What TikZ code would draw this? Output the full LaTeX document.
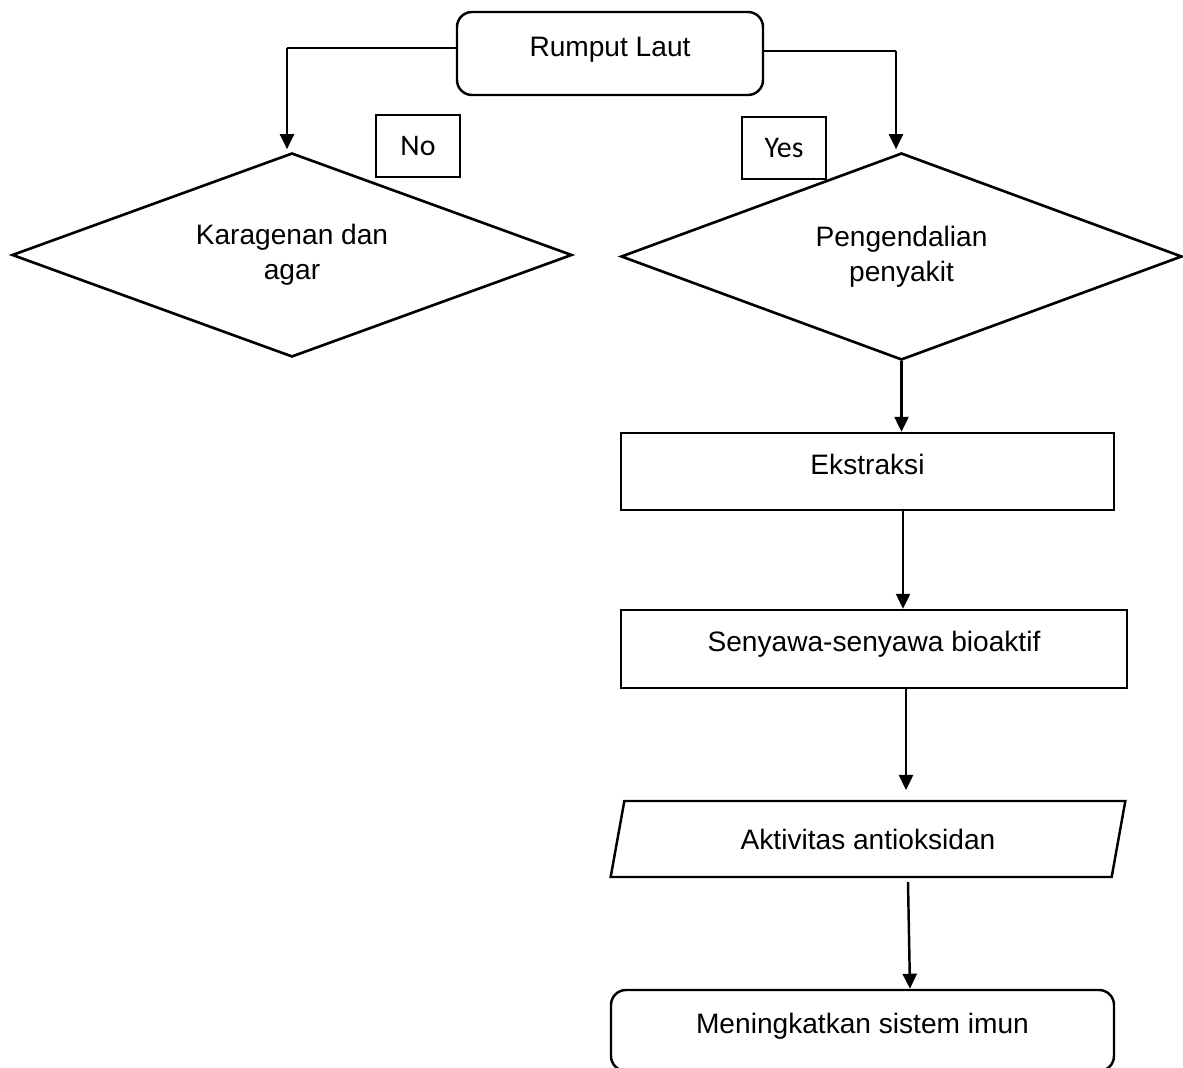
\documentclass[tikz,border=0pt]{standalone}
\usepackage{fontspec}
\setmainfont{Liberation Sans}
\newfontfamily\labelfont{Carlito}
\usetikzlibrary{shapes.geometric, arrows.meta, positioning, calc}

\begin{document}
\begin{tikzpicture}[
    node/.style={rectangle, draw=black, text centered, font=\fontsize{16}{19}\selectfont, line width=1.4pt, text height=0.42cm, text depth=0.3cm},
    roundnode/.style={node, rounded corners=0.3cm},
    decision/.style={diamond, draw=black, aspect=2.75, align=center, font=\fontsize{16}{20}\selectfont, line width=1.5pt},
    datanode/.style={trapezium, trapezium left angle=77, trapezium right angle=103, trapezium stretches=true, draw=black, text centered, font=\fontsize{16}{19}\selectfont, line width=1.4pt},
    answer/.style={rectangle, draw=black, fill=white, font=\labelfont\fontsize{17}{20}\selectfont, line width=0.7pt, minimum width=1.68cm, minimum height=1.24cm},
    line/.style={draw=black, line width=0.9pt},
    arrow/.style={draw=black, line width=1.4pt, -{Triangle[length=0.3cm, width=0.28cm]}}
]
\useasboundingbox (0,0) rectangle (23.66,21.36);
\clip (0,0) rectangle (23.66,21.36);

\node[roundnode, minimum width=6.12cm, minimum height=1.66cm] (rumput) at (12.2,20.29) {Rumput Laut};

\node[decision, minimum width=11.2cm, minimum height=4.08cm] (karagenan) at (5.84,16.26) {Karagenan dan\\agar};
\node[decision, minimum width=11.22cm, minimum height=4.14cm] (pengendalian) at (18.03,16.23) {Pengendalian\\penyakit};

\node[answer] (no) at (8.36,18.44) {No};
\node[answer] (yes) at (15.68,18.4) {Yes};

\node[node, minimum width=9.86cm, minimum height=1.54cm] (ekstraksi) at (17.35,11.93) {Ekstraksi};
\node[node, minimum width=10.12cm, minimum height=1.56cm] (senyawa) at (17.48,8.38) {Senyawa-senyawa bioaktif};
\node[datanode, minimum width=10.3cm, minimum height=1.52cm] (aktivitas) at (17.36,4.58) {Aktivitas antioksidan};
\node[roundnode, minimum width=10.06cm, minimum height=1.62cm] (imun) at (17.25,0.75) {Meningkatkan sistem imun};

% branches from the top box
\coordinate (lcorner) at (5.74,20.4);
\coordinate (rcorner) at (17.92,20.34);
\draw[line] (rumput.west |- lcorner) -- (lcorner);
\draw[arrow] (lcorner) -- ($(lcorner |- karagenan.north)+(0,0.05)$);
\draw[line] (rumput.east |- rcorner) -- (rcorner);
\draw[arrow] (rcorner) -- ($(rcorner |- pengendalian.north)+(0,0.05)$);

% main flow
\draw[arrow] (pengendalian.south) -- (pengendalian.south |- ekstraksi.north);
\coordinate (flow) at (18.06,0);
\draw[arrow] (flow |- ekstraksi.south) -- (flow |- senyawa.north);
\coordinate (flowb) at (18.12,5.56);
\draw[arrow] (flowb |- senyawa.south) -- (flowb);
\coordinate (flowc) at (18.16,3.72);
\draw[arrow] (flowc) -- (18.2,0 |- imun.north);
\end{tikzpicture}
\end{document}
